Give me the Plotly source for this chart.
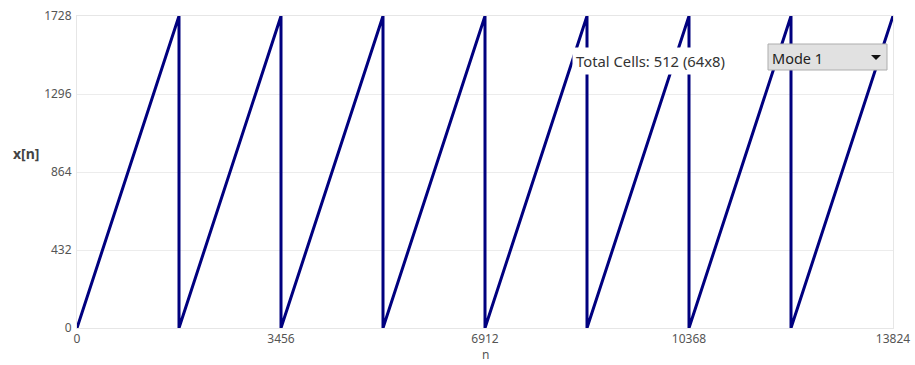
import plotly.graph_objects as go

# Sawtooth vertices (n, x[n])
n_vals = [0, 1728, 1728, 3456, 3456, 5184, 5184, 6912, 6912, 8640, 8640,
          10368, 10368, 12096, 12096, 13824]
x_vals = [0, 1728, 0, 1728, 0, 1728, 0, 1728, 0, 1728, 0,
          1728, 0, 1728, 0, 1728]

x_ticks = [0, 3456, 6912, 10368, 13824]
y_ticks = [0, 432, 864, 1296, 1728]
mode_label = "Mode 1"
info_label = "Total Cells: 512 (64x8)"
x_title = "n"
y_title = "x[n]"

FONT = "Noto Sans, Segoe UI, Tahoma, sans-serif"

# plot-area geometry in window pixels (for placing overlay widgets)
FW, FH = 915, 365
L, R, T, B = 77, 893, 16, 328
W, H = R - L, B - T


def px(x):
    return (x - L) / W


def py(y):
    return (B - y) / H


fig = go.Figure()
fig.add_trace(go.Scatter(
    x=n_vals, y=x_vals, mode="lines",
    line=dict(color="#00007f", width=3),
    hoverinfo="skip", showlegend=False, cliponaxis=False,
))

fig.update_layout(
    width=FW, height=FH,
    margin=dict(l=L, r=FW - R, t=T, b=FH - B, autoexpand=False),
    paper_bgcolor="white", plot_bgcolor="white",
    font=dict(family=FONT, size=12, color="#444"),
    hovermode=False,
    xaxis=dict(
        range=[0, 13824], tickvals=x_ticks, ticktext=[str(v) for v in x_ticks],
        showgrid=False, zeroline=False, showline=True, linecolor="#e6e6e6",
        mirror=True, linewidth=1, ticks="", tickfont=dict(size=12, color="#555"),
        automargin=False, ticklabeloverflow="allow",
    ),
    yaxis=dict(
        range=[0, 1728], tickvals=y_ticks, ticktext=[str(v) for v in y_ticks],
        showgrid=True, gridcolor="#ececec", gridwidth=1, automargin=False,
        zeroline=False, showline=True, linecolor="#e6e6e6", mirror=True,
        ticks="", ticklabelstandoff=2, tickfont=dict(size=12, color="#555"),
        ticklabeloverflow="allow",
    ),
    shapes=[
        dict(type="rect", xref="paper", yref="paper", layer="above",
             x0=px(768), x1=px(887), y0=py(70), y1=py(44),
             fillcolor="#e1e1e1", line=dict(color="#adadad", width=1)),
        dict(type="path", xref="paper", yref="paper", layer="above",
             path=f"M {px(871)} {py(55)} L {px(881)} {py(55)} L {px(876)} {py(60)} Z",
             fillcolor="#111", line=dict(color="#111", width=0)),
    ],
    annotations=[
        dict(text=f"<b>{y_title}</b>", xref="paper", yref="paper",
             x=px(41), y=py(153), xanchor="right", yanchor="middle",
             showarrow=False, font=dict(size=14, color="#444")),
        dict(text=x_title, xref="paper", yref="paper",
             x=0.5, y=py(354), xanchor="center", yanchor="middle",
             showarrow=False, font=dict(size=12, color="#555")),
        dict(text=info_label, xref="paper", yref="paper",
             x=px(572), y=py(61), xanchor="left", yanchor="middle",
             showarrow=False, bgcolor="white", borderpad=3,
             font=dict(size=14.8, color="#333")),
        dict(text=mode_label, xref="paper", yref="paper",
             x=px(770), y=py(58), xanchor="left", yanchor="middle",
             showarrow=False, font=dict(size=14.5, color="#222")),
    ],
)

# remove the default 8px page margin so the figure fills the window exactly
fig.write_html("out.html", config={"displayModeBar": False},
               post_script="document.body.style.margin='0';")
